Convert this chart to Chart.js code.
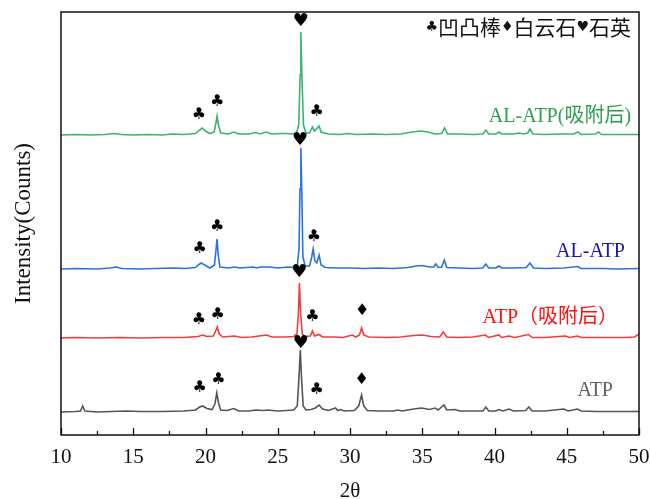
<!DOCTYPE html>
<html>
<head>
<meta charset="utf-8">
<script src="https://cdn.jsdelivr.net/npm/chart.js@4"></script>
<style>
  body { margin: 0; background: #fff; }
  #wrap { width: 651px; height: 499px; }
</style>
</head>
<body>
<div id="wrap"><canvas id="xrd" width="651" height="499"></canvas></div>
<script>
// XRD patterns, 2θ vs relative intensity (arbitrary units, stacked with offsets)
const xTicks = [10, 15, 20, 25, 30, 35, 40, 45, 50];
const seriesNames = ['AL-ATP(吸附后)', 'AL-ATP', 'ATP（吸附后）', 'ATP'];
const seriesOffsets = [300, 166, 97, 23];

// [2θ, intensity]
const alAtpAds = [
  [10, 0], [11, 0.5], [12, 0], [13, 0.5], [13.7, 1.5], [14.2, 0.5], [15, 0], [16, 0.5], [17, 0], [17.7, 1],
  [18.5, 0.5], [19.3, 1.5], [19.6, 5], [19.78, 7], [20.0, 4], [20.3, 1.5], [20.6, 3], [20.72, 12], [20.8, 19],
  [20.9, 10], [21.05, 2], [21.6, 1], [21.96, 3], [22.3, 1], [23.0, 1], [23.5, 2.5], [23.8, 1], [24.2, 3],
  [24.6, 1], [25.2, 1.5], [25.56, 1.5], [26.0, 1], [26.3, 2], [26.45, 10], [26.55, 60], [26.6, 103],
  [26.67, 60], [26.78, 10], [26.95, 2], [27.2, 2], [27.4, 8], [27.55, 4], [27.86, 9], [28.0, 3], [28.5, 1],
  [29.3, 0.5], [29.8, 1.5], [30.5, 0.5], [31.5, 1], [32.5, 0.5], [33.5, 1], [34.3, 3], [34.9, 4], [35.4, 3],
  [35.9, 1], [36.35, 1.5], [36.54, 7], [36.75, 1], [37.5, 1], [38.5, 0.5], [39.2, 1], [39.4, 5], [39.6, 1],
  [40.1, 1], [40.3, 3], [40.5, 1], [41.3, 1], [41.7, 2], [42.0, 1], [42.3, 2], [42.45, 6], [42.65, 1],
  [43.5, 0.5], [44.5, 1], [45.5, 1], [45.75, 3], [46.0, 0.5], [47.0, 1], [47.2, 3], [47.4, 0.5], [48.5, 0.5],
  [50, 0.5]
];
const alAtp = [
  [10, 0], [11, 0.5], [12.5, 0], [13.4, 1], [13.8, 2], [14.2, 0.5], [15.5, 0], [16.5, 0.5], [17.8, 1],
  [18.6, 0.5], [19.3, 1.5], [19.55, 4.5], [19.7, 6], [19.95, 4], [20.3, 1], [20.62, 4], [20.72, 18], [20.8, 30],
  [20.88, 14], [21.0, 2], [21.6, 1], [22.0, 2], [22.4, 1], [23.3, 2], [23.55, 1], [23.8, 2], [24.4, 2],
  [25.0, 1], [25.7, 2], [26.1, 1.5], [26.35, 3], [26.47, 20], [26.54, 80], [26.6, 121], [26.66, 80],
  [26.74, 12], [26.9, 3], [27.2, 3], [27.35, 12], [27.45, 20], [27.57, 8], [27.7, 6], [27.86, 14],
  [28.0, 4], [28.3, 1.5], [29.0, 1], [30.0, 1], [31.0, 0.5], [32.0, 1], [33.0, 0.5], [34.0, 1.5],
  [34.6, 3], [35.0, 3.5], [35.5, 2], [35.8, 2], [35.93, 5], [36.1, 1.5], [36.35, 2], [36.52, 9],
  [36.7, 1.5], [37.5, 1], [38.5, 0.5], [39.2, 1], [39.4, 5], [39.6, 1], [40.1, 1], [40.3, 3], [40.5, 1],
  [41.3, 1], [42.2, 1.5], [42.45, 6], [42.7, 1], [43.5, 0.5], [44.8, 1], [45.75, 2.5], [46.0, 0.5],
  [47.5, 0.5], [48.5, 0], [50, 0.5]
];
const atpAds = [
  [10, 0], [11, 0.5], [12.5, 0], [14, 0.5], [15.5, 0], [17, 0.5], [18.5, 0.5], [19.5, 1.5], [19.8, 3],
  [20.1, 1.5], [20.55, 2], [20.7, 7], [20.82, 11], [20.95, 4], [21.2, 1], [22.0, 2], [22.5, 0.5], [23.2, 1],
  [24.2, 3], [24.6, 1], [25.5, 1], [26.1, 1.5], [26.33, 4], [26.43, 25], [26.5, 55], [26.58, 25],
  [26.7, 4], [26.9, 1.5], [27.25, 2], [27.4, 7], [27.55, 2], [27.86, 3.5], [28.1, 1], [29.0, 1],
  [29.5, 0.5], [30.16, 3], [30.4, 1], [30.65, 3], [30.8, 10], [30.95, 3], [31.3, 1], [32.5, 0.5],
  [33.5, 1], [34.4, 2.5], [35.0, 3], [35.6, 1.5], [36.2, 1], [36.46, 6], [36.7, 1], [37.5, 0.5],
  [38.5, 1], [39.36, 3], [39.6, 0.5], [40.3, 3], [40.5, 0.5], [41.0, 2], [41.4, 0.5], [42.35, 3.5],
  [42.6, 0.5], [43.5, 0.5], [44.9, 2], [45.2, 0.5], [45.75, 2], [46.0, 0.5], [47.5, 0.5], [49.0, 0.5],
  [49.7, 1], [50, 4]
];
const atp = [
  [10, 0], [11.0, 0.5], [11.35, 1], [11.5, 6], [11.65, 1], [12.5, 0], [13.5, 0.5], [14.5, 1], [15.5, 0.5],
  [17.0, 0.5], [18.5, 1], [19.3, 2], [19.6, 5], [19.8, 6], [20.1, 3.5], [20.45, 2.5], [20.65, 8], [20.78, 19],
  [20.9, 9], [21.05, 2], [21.5, 1.5], [21.96, 3.5], [22.3, 1], [23.0, 1], [23.5, 2], [24.0, 1.5], [24.3, 2],
  [25.0, 1], [25.6, 1.5], [26.1, 2], [26.35, 6], [26.47, 35], [26.56, 62], [26.64, 35], [26.76, 6],
  [26.95, 2], [27.3, 2.5], [27.6, 4], [27.86, 7], [28.1, 3], [28.5, 1.5], [29.0, 4], [29.15, 1.5],
  [29.35, 2.5], [29.6, 1], [30.3, 1.5], [30.6, 6], [30.8, 17], [30.95, 6], [31.2, 1.5], [32.0, 1],
  [33.0, 1], [33.3, 2], [33.6, 1], [34.4, 3], [34.96, 4], [35.5, 2.5], [35.9, 4], [36.1, 2], [36.5, 7],
  [36.7, 2], [37.26, 2.5], [37.6, 1], [38.5, 1], [39.2, 1], [39.4, 5], [39.6, 1], [40.1, 1], [40.3, 2.5],
  [40.6, 1], [41.0, 3], [41.3, 1], [42.15, 1.5], [42.38, 5], [42.6, 1], [43.5, 1], [44.8, 3], [45.1, 1],
  [45.75, 3], [46.0, 1], [47.0, 0.5], [48.5, 0.5], [50, 0.5]
];
const seriesData = [alAtpAds, alAtp, atpAds, atp];
const lineColors = ['#3cb371', '#2a72e0', '#f23c3c', '#555555'];
const labelColors = ['#2e9e4e', '#1a1aa8', '#ff1010', '#606060'];

// peak markers: [2θ, height on the stacked scale, symbol]
const peakMarks = [
  [26.6, 414, '♥'], [19.55, 320, '♣'], [20.8, 333, '♣'], [27.7, 323, '♣'],
  [26.55, 295, '♥'], [19.6, 186, '♣'], [20.8, 208, '♣'], [27.5, 198, '♣'],
  [26.5, 163, '♥'], [19.55, 115, '♣'], [20.85, 120, '♣'], [27.4, 118, '♣'], [30.85, 124, '♦'],
  [26.6, 92, '♥'], [19.6, 47, '♣'], [20.9, 55, '♣'], [27.7, 45, '♣'], [30.8, 55, '♦']
];
// series name labels: [right end 2θ, height]
const nameSpots = [[49.45, 318], [49.03, 183], [48.55, 117], [48.2, 44]];

const serif = "'Liberation Serif', 'Times New Roman', serif";
const cjkSerif = "'Liberation Serif', 'Noto Sans CJK SC', serif";

const decorations = {
  id: 'decorations',
  afterDatasetsDraw(chart) {
    const { ctx, chartArea: a, scales: { x, y } } = chart;
    ctx.save();
    // frame
    ctx.strokeStyle = '#111';
    ctx.lineWidth = 1.5;
    ctx.strokeRect(a.left, a.top, a.right - a.left, a.bottom - a.top);
    // inward ticks on bottom axis
    ctx.lineWidth = 1.3;
    for (let v = 10; v <= 50; v += 2.5) {
      const px = Math.round(x.getPixelForValue(v)) + 0.5;
      const len = v % 5 === 0 ? 7 : 4;
      ctx.beginPath();
      ctx.moveTo(px, a.bottom);
      ctx.lineTo(px, a.bottom - len);
      ctx.stroke();
    }
    // peak symbols
    ctx.fillStyle = '#000';
    ctx.textAlign = 'center';
    ctx.textBaseline = 'middle';
    peakMarks.forEach(([t, h, s]) => {
      ctx.font = (s === '♥' ? '18px' : '16px') + " 'DejaVu Sans'";
      ctx.fillText(s, x.getPixelForValue(t), y.getPixelForValue(h));
    });
    // series names
    ctx.textAlign = 'right';
    ctx.font = '20px ' + cjkSerif;
    nameSpots.forEach(([t, h], i) => {
      ctx.fillStyle = labelColors[i];
      ctx.fillText(seriesNames[i], x.getPixelForValue(t), y.getPixelForValue(h));
    });
    // key at top right
    ctx.fillStyle = '#111';
    const keyParts = [['♣', 14], ['凹凸棒', 21], ['♦', 14], ['白云石', 21], ['♥', 14], ['石英', 21]];
    let cx = x.getPixelForValue(49.45);
    const ky = y.getPixelForValue(408);
    for (let i = keyParts.length - 1; i >= 0; i--) {
      const [txt, sz] = keyParts[i];
      ctx.font = sz + "px " + (sz === 14 ? "'DejaVu Sans'" : "'Noto Sans CJK SC'");
      ctx.fillText(txt, cx, ky);
      cx -= ctx.measureText(txt).width;
    }
    ctx.restore();
  }
};

new Chart(document.getElementById('xrd').getContext('2d'), {
  type: 'line',
  data: {
    datasets: seriesData.map((pts, i) => ({
      label: seriesNames[i],
      data: pts.map(([t, v]) => ({ x: t, y: v + seriesOffsets[i] })),
      borderColor: lineColors[i],
      borderWidth: 1.6,
      pointRadius: 0,
      tension: 0,
      fill: false
    }))
  },
  options: {
    responsive: false,
    animation: false,
    layout: { padding: { top: 12, right: 12 } },
    plugins: { legend: { display: false }, tooltip: { enabled: false } },
    scales: {
      x: {
        type: 'linear', min: 10, max: 50,
        afterBuildTicks: s => { s.ticks = xTicks.map(v => ({ value: v })); },
        afterFit: s => { s.height = 64; s.paddingLeft = 0; s.paddingRight = 0; },
        grid: { display: false, drawTicks: false },
        border: { display: false },
        ticks: { padding: 10, color: '#111', font: { family: serif, size: 21 } },
        title: { display: true, text: '2θ', color: '#111', padding: { top: 0, bottom: -3 },
                 font: { family: serif, size: 21, lineHeight: 1 } }
      },
      y: {
        min: 0, max: 423,
        afterFit: s => { s.width = 61; },
        grid: { display: false, drawTicks: false },
        border: { display: false },
        ticks: { display: false },
        title: { display: true, text: 'Intensity(Counts)', color: '#111', padding: { top: 10, bottom: 0 },
                 font: { family: serif, size: 23 } }
      }
    }
  },
  plugins: [decorations]
});
</script>
</body>
</html>
